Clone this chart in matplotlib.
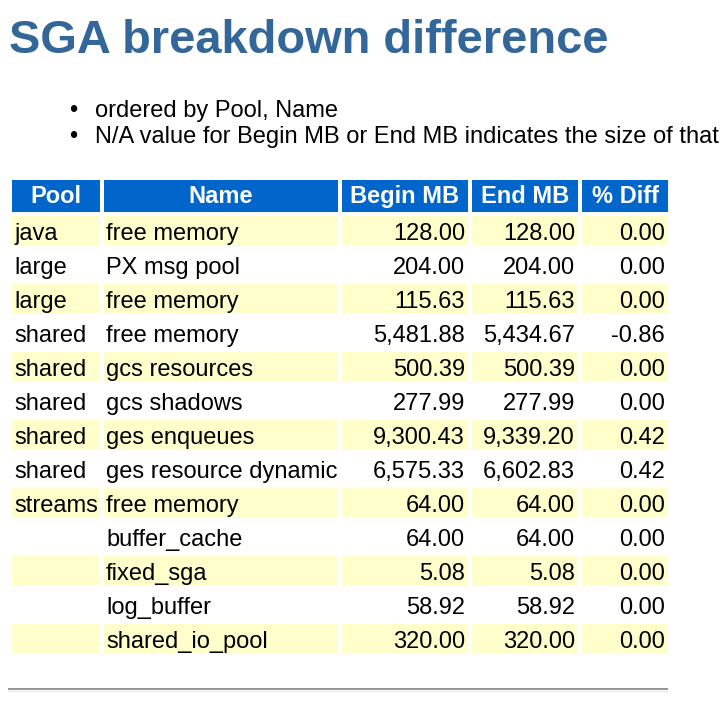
"""SGA breakdown difference table (AWR style), drawn with matplotlib."""
import matplotlib
matplotlib.use("Agg")
import matplotlib.pyplot as plt
from matplotlib.patches import Rectangle

plt.rcParams["font.family"] = ["Liberation Sans", "DejaVu Sans"]

TITLE = "SGA breakdown difference"
NOTES = ["ordered by Pool, Name",
         "N/A value for Begin MB or End MB indicates the size of that"]
HEADERS = ["Pool", "Name", "Begin MB", "End MB", "% Diff"]
POOLS = ["java", "large", "large", "shared", "shared", "shared", "shared",
         "shared", "streams", "", "", "", ""]
NAMES = ["free memory", "PX msg pool", "free memory", "free memory",
         "gcs resources", "gcs shadows", "ges enqueues", "ges resource dynamic",
         "free memory", "buffer_cache", "fixed_sga", "log_buffer",
         "shared_io_pool"]
BEGIN_MB = [128.00, 204.00, 115.63, 5481.88, 500.39, 277.99, 9300.43,
            6575.33, 64.00, 64.00, 5.08, 58.92, 320.00]
END_MB = [128.00, 204.00, 115.63, 5434.67, 500.39, 277.99, 9339.20,
          6602.83, 64.00, 64.00, 5.08, 58.92, 320.00]
PCT_DIFF = [0.00, 0.00, 0.00, -0.86, 0.00, 0.00, 0.42, 0.42, 0.00, 0.00,
            0.00, 0.00, 0.00]

# layout in pixels (figure is 722 x 706 at dpi 100)
W, H = 722, 706
PX = 0.72                      # points per pixel
COL_L = [12, 104, 342, 472, 582]
COL_R = [100, 338, 468, 578, 668]
HEAD_TOP, HEAD_H = 180, 32
ROW_TOP, ROW_H, ROW_STEP = 216, 30, 34
FS = 23.6 * PX

BLUE_HEAD = "#0066CC"
YELLOW = "#FFFFCC"
TITLE_C = "#336699"

fig = plt.figure(figsize=(W / 100, H / 100), dpi=100)
ax = fig.add_axes([0, 0, 1, 1])
ax.set_xlim(0, W)
ax.set_ylim(H, 0)
ax.axis("off")

ax.text(9, 53, TITLE, fontsize=47 * PX, fontweight="bold", color=TITLE_C,
        va="baseline", ha="left")

for i, note in enumerate(NOTES):
    y = 117 + 26 * i
    ax.text(73, y, "\u2022", fontsize=FS, va="baseline", ha="center")
    ax.text(95, y, note, fontsize=FS, va="baseline", ha="left")

# header
for j, h in enumerate(HEADERS):
    ax.add_patch(Rectangle((COL_L[j], HEAD_TOP), COL_R[j] - COL_L[j], HEAD_H,
                           facecolor=BLUE_HEAD, edgecolor="none"))
    ax.text((COL_L[j] + COL_R[j]) / 2, HEAD_TOP + 23, h, fontsize=FS,
            fontweight="bold", color="white", va="baseline", ha="center")

# body
for i in range(len(NAMES)):
    top = ROW_TOP + ROW_STEP * i
    base = top + 24
    if i % 2 == 0:
        for j in range(len(HEADERS)):
            ax.add_patch(Rectangle((COL_L[j], top), COL_R[j] - COL_L[j], ROW_H,
                                   facecolor=YELLOW, edgecolor="none"))
    ax.text(COL_L[0] + 2, base, POOLS[i], fontsize=FS, va="baseline", ha="left")
    ax.text(COL_L[1] + 2, base, NAMES[i], fontsize=FS, va="baseline", ha="left")
    vals = [BEGIN_MB[i], END_MB[i], PCT_DIFF[i]]
    for k, v in enumerate(vals):
        ax.text(COL_R[k + 2] - 3, base, f"{v:,.2f}", fontsize=FS,
                va="baseline", ha="right")

# horizontal rule
ax.plot([8, 668], [689, 689], color="#999999", linewidth=2 * PX,
        solid_capstyle="butt")
ax.plot([8, 668], [691, 691], color="#e6e6e6", linewidth=1 * PX,
        solid_capstyle="butt")

fig.savefig("out.png", dpi=100)
